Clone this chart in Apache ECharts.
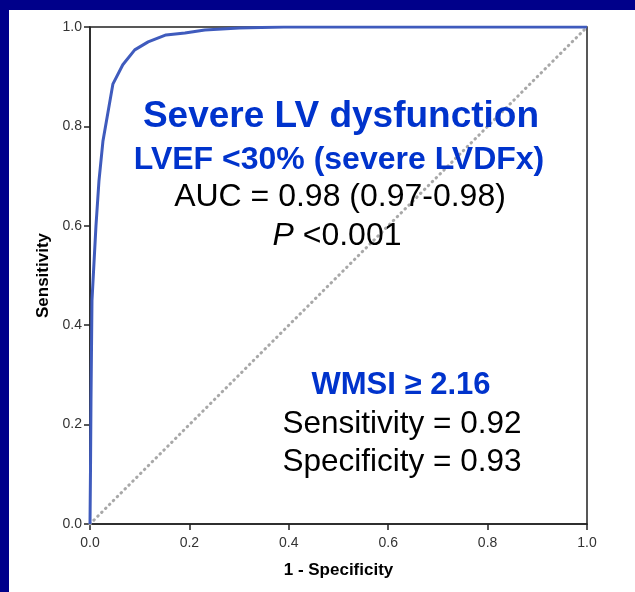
<!DOCTYPE html>
<html><head><meta charset="utf-8">
<script src="https://cdn.jsdelivr.net/npm/echarts@6/dist/echarts.min.js"></script>
<style>html,body{margin:0;padding:0;background:#00008a;}#c{width:635px;height:592px;}</style>
</head><body><div id="c"></div>
<script>
// ROC curve points: [1 - specificity, sensitivity]
const rocFpr = [0, 0.001, 0.002, 0.004, 0.012, 0.018, 0.026, 0.046, 0.066, 0.09, 0.117, 0.153, 0.191, 0.231, 0.30, 0.39, 1.0];
const rocTpr = [0, 0.109, 0.25, 0.45, 0.60, 0.69, 0.77, 0.885, 0.924, 0.954, 0.970, 0.984, 0.988, 0.994, 0.998, 1.0, 1.0];
const refLine = [[0, 0], [1, 1]];
const tickLabels = ['0.0', '0.2', '0.4', '0.6', '0.8', '1.0'];

const chart = echarts.init(document.getElementById('c'));
const FONT = '"Liberation Sans", Arial, sans-serif';
const roc = rocFpr.map((x, i) => [x, rocTpr[i]]);
const axisCommon = {
  type: 'value', min: 0, max: 1, interval: 0.2,
  axisLine: { show: true, lineStyle: { color: '#222', width: 1.5 } },
  axisTick: { show: true, length: 6, lineStyle: { color: '#222', width: 1.5 } },
  splitLine: { show: false },
  axisLabel: { color: '#333', fontSize: 14, fontFamily: FONT, formatter: v => tickLabels[Math.round(v / 0.2)] },
  nameLocation: 'middle',
  nameTextStyle: { color: '#000', fontSize: 17, fontWeight: 'bold', fontFamily: FONT }
};
function txt(x, y, text, font, fill, extra) {
  return { type: 'text', x: x, y: y, z: 10, silent: true,
    style: Object.assign({ text: text, fill: fill, font: font, textAlign: 'center', textVerticalAlign: 'middle' }, extra || {}) };
}
chart.setOption({
  backgroundColor: '#00008a',
  animation: false,
  grid: { left: 90, right: 48, top: 27, bottom: 68, show: true, borderColor: '#222', borderWidth: 1.5, backgroundColor: 'transparent' },
  xAxis: Object.assign({}, axisCommon, { name: '1 - Specificity', nameGap: 38, axisLabel: Object.assign({}, axisCommon.axisLabel, { margin: 12 }) }),
  yAxis: Object.assign({}, axisCommon, { name: 'Sensitivity', nameGap: 37, axisLabel: Object.assign({}, axisCommon.axisLabel, { margin: 8 }) }),
  graphic: [
    { type: 'rect', z: -10, silent: true, shape: { x: 9, y: 10, width: 640, height: 600 }, style: { fill: '#ffffff' } },
    txt(341, 117, 'Severe LV dysfunction', 'bold 37px ' + FONT, '#0033cc'),
    txt(339, 160, 'LVEF <30% (severe LVDFx)', 'bold 32px ' + FONT, '#0033cc'),
    txt(340, 197, 'AUC = 0.98 (0.97-0.98)', '32px ' + FONT, '#000'),
    txt(337, 236, '{i|P} <0.001', '32px ' + FONT, '#000', { rich: { i: { fontStyle: 'italic', fontSize: 32, fontFamily: FONT, fill: '#000' } } }),
    txt(401, 385, 'WMSI ≥ 2.16', 'bold 31px ' + FONT, '#0033cc'),
    txt(402, 424, 'Sensitivity = 0.92', '31.5px ' + FONT, '#000'),
    txt(402, 462, 'Specificity = 0.93', '31.5px ' + FONT, '#000')
  ],
  series: [
    { type: 'line', data: refLine, symbol: 'none', silent: true, lineStyle: { color: '#a8a8a8', width: 3, type: [0.5, 5], cap: 'round' }, z: 2 },
    { type: 'line', data: roc, symbol: 'none', silent: true, lineStyle: { color: '#3f5bbd', width: 3 }, z: 3 }
  ]
});
</script></body></html>
